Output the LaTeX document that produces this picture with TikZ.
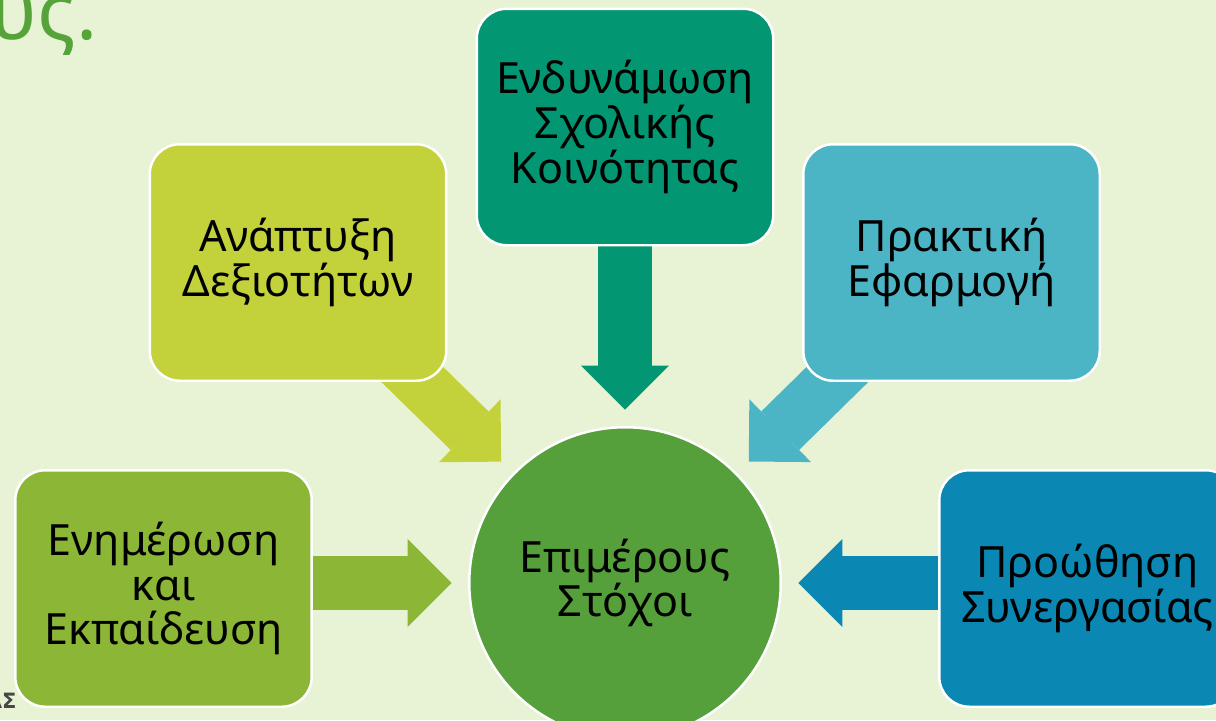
\documentclass[tikz,border=0pt]{standalone}
\usepackage{fontspec}
\setmainfont{Noto Sans}
\newfontfamily\footfont{DejaVu Sans}
\usetikzlibrary{arrows.meta}

\definecolor{bgcol}{HTML}{E8F3D6}
\definecolor{titlecol}{HTML}{56A33A}
\definecolor{cinfo}{HTML}{8CB736}
\definecolor{cskill}{HTML}{C3D13B}
\definecolor{ccomm}{HTML}{039673}
\definecolor{cpract}{HTML}{4BB5C5}
\definecolor{ccoop}{HTML}{0A87B2}
\definecolor{cgoal}{HTML}{55A03A}

\pgfdeclarelayer{bg}
\pgfsetlayers{bg,main}

\begin{document}
\begin{tikzpicture}[x=0.02cm, y=-0.02cm,
      box/.style={draw=white, line width=1.4pt, rounded corners=0.6cm,
        minimum width=5.93cm, minimum height=4.73cm, inner sep=0pt,
        align=center, font=\fontsize{24.5}{25.5}\selectfont},
      goal/.style={circle, draw=white, line width=1.4pt, fill=cgoal,
        minimum size=6.23cm, inner sep=0pt, align=center,
        font=\fontsize{24.5}{25.5}\selectfont},
      barr/.style={line width=1.08cm,
        -{Triangle[width=1.76cm, length=0.88cm, line width=0pt]},
        shorten >=0.33cm}
    ]

    \useasboundingbox (0,0) rectangle (1216,720);

    % ══ title remains ═════════════════════════════════════════════════════════
    \node[anchor=base east, inner sep=0pt, text=titlecol,
      font=\fontsize{45}{48}\selectfont] (title) at (98,39) {ους.};
    \node[anchor=base east, inner sep=0pt, text=black!72,
      font=\footfont\bfseries\fontsize{12}{13}\selectfont] (foot) at (17,708) {ΑΣ};

    % ══ centre ════════════════════════════════════════════════════════════════
    \node[goal] (circ) at (625,583) {Επιμέρους\\Στόχοι};

    % ══ boxes ═════════════════════════════════════════════════════════════════
    \node[box, fill=cinfo]  (info)  at (163.5,588.5) {Ενημέρωση\\και\\Εκπαίδευση};
    \node[box, fill=cskill] (skill) at (298,262.5)   {Ανάπτυξη\\Δεξιοτήτων};
    \node[box, fill=ccomm]  (comm)  at (625,127)     {Ενδυνάμωση\\Σχολικής\\Κοινότητας};
    \node[box, fill=cpract] (pract) at (951.5,262.5) {Πρακτική\\Εφαρμογή};
    \node[box, fill=ccoop]  (coop)  at (1087.5,588.5) {Προώθηση\\Συνεργασίας};

    % ══ block arrows, behind the boxes ════════════════════════════════════════
    \begin{pgfonlayer}{bg}
      \fill[bgcol] (0,0) rectangle (1216,720);
      \draw[barr, cinfo]  (info |- circ) -- (circ);
      \draw[barr, cskill] (skill.center) -- (circ);
      \draw[barr, ccomm]  (comm.center)  -- (circ);
      \draw[barr, cpract] (pract.center) -- (circ);
      \draw[barr, ccoop]  (coop |- circ) -- (circ);
    \end{pgfonlayer}

  \end{tikzpicture}
\end{document}
